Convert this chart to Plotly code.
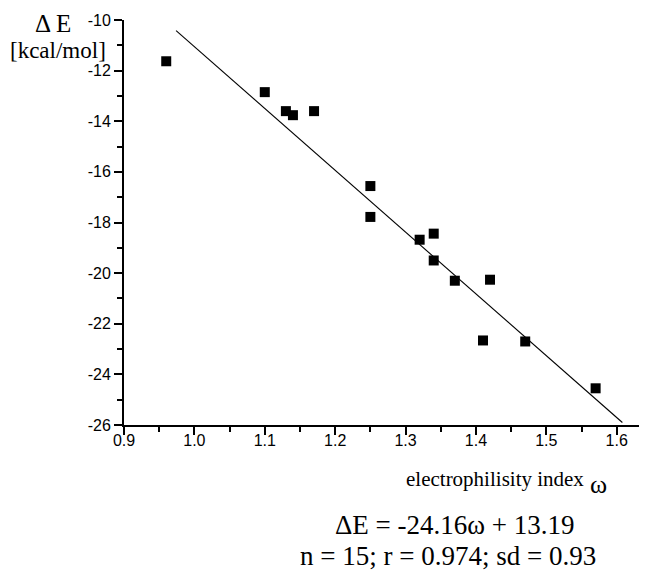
import plotly.graph_objects as go

omega = [0.96, 1.10, 1.13, 1.14, 1.17, 1.25, 1.25, 1.32, 1.34, 1.34, 1.37, 1.42, 1.41, 1.47, 1.57]
delta_e = [-11.63, -12.85, -13.60, -13.76, -13.60, -16.56, -17.78, -18.68, -18.44, -19.50, -20.30, -20.26, -22.66, -22.70, -24.55]

fit_x = [0.974, 1.608]
fit_y = [-10.42, -25.90]

x_ticks = [0.9, 1.0, 1.1, 1.2, 1.3, 1.4, 1.5, 1.6]
y_ticks = [-26, -24, -22, -20, -18, -16, -14, -12, -10]

W, H = 639, 565
L, R, T, B = 116, 0, 12, 148

fig = go.Figure()
fig.add_trace(go.Scatter(x=fit_x, y=fit_y, mode="lines",
                         line=dict(color="black", width=1.1), showlegend=False))
fig.add_trace(go.Scatter(x=omega, y=delta_e, mode="markers",
                         marker=dict(symbol="square", size=10, color="black"),
                         showlegend=False))

tickfont = dict(family="Liberation Sans, Arial", size=16, color="black")
fig.update_layout(
    width=W, height=H,
    margin=dict(l=L, r=R, t=T, b=B),
    paper_bgcolor="white", plot_bgcolor="white",
    xaxis=dict(range=[0.9, 1.643], tickvals=x_ticks,
               ticktext=[f"{v:.1f}" for v in x_ticks],
               ticks="outside", ticklen=8, tickwidth=2, tickcolor="black",
               ticklabelstandoff=-8,
               showline=True, linecolor="black", linewidth=2,
               showgrid=False, zeroline=False, tickfont=tickfont,
               minor=dict(dtick=0.05, tick0=0.9, ticks="outside", ticklen=5,
                          tickwidth=2, tickcolor="black")),
    yaxis=dict(range=[-26, -10], tickvals=y_ticks,
               ticktext=[str(v) for v in y_ticks],
               ticks="outside", ticklen=8, tickwidth=2, tickcolor="black",
               showline=True, linecolor="black", linewidth=2,
               showgrid=False, zeroline=False, tickfont=tickfont,
               minor=dict(dtick=1, tick0=-26, ticks="outside", ticklen=5,
                          tickwidth=2, tickcolor="black")),
)

serif = "Liberation Serif, Times New Roman"
ann = [
    dict(text="Δ E", x=65, y=15, size=25, anchor="right"),
    dict(text="[kcal/mol]", x=50, y=42, size=23, anchor="center"),
    dict(text="electrophilisity index", x=487, y=471, size=21, anchor="center"),
    dict(text="ω", x=590, y=476, size=26, anchor="center"),
    dict(text="ΔE = -24.16ω + 13.19", x=447, y=517, size=27, anchor="center"),
    dict(text="n = 15; r = 0.974; sd = 0.93", x=440, y=548, size=27, anchor="center"),
]
for a in ann:
    fig.add_annotation(text=a["text"], xref="paper", yref="paper",
                       x=(a["x"] - L) / (W - L - R),
                       y=(H - a["y"] - B) / (H - T - B),
                       showarrow=False, xanchor=a["anchor"], yanchor="middle",
                       font=dict(family=serif, size=a["size"], color="black"))

fig.write_html("out.html")
